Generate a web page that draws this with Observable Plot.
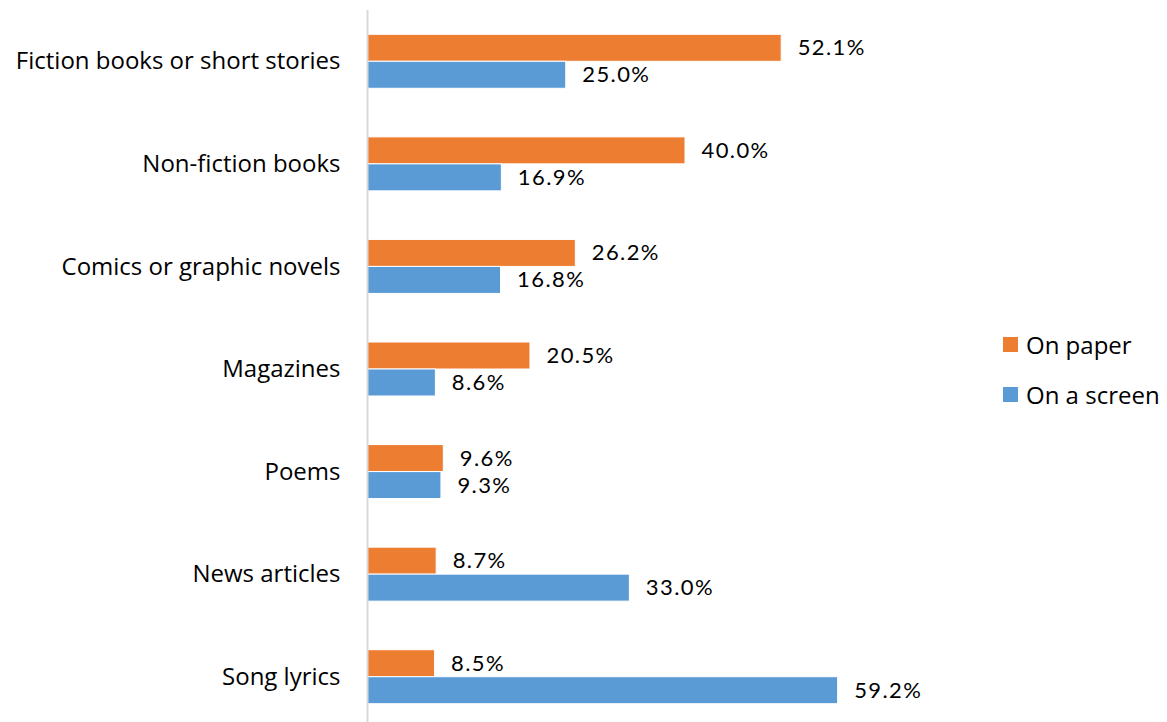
<!DOCTYPE html>
<html>
<head>
<meta charset="utf-8">
<script src="https://cdn.jsdelivr.net/npm/d3@7"></script>
<script src="https://cdn.jsdelivr.net/npm/@observablehq/plot@0.6"></script>
<style>
  html, body { margin: 0; padding: 0; background: #fff; overflow: hidden; }
  #wrap { position: relative; width: 1167px; height: 722px; }
  #legend { position: absolute; left: 1003px; top: 326px; font-family: "Open Sans", sans-serif; font-size: 24px; color: #000; }
  .item { display: flex; align-items: center; height: 36px; margin-bottom: 14px; }
  .sw { width: 15px; height: 15px; margin-right: 8px; }
  g[aria-label="text"] text { letter-spacing: 1.4px; }
</style>
</head>
<body>
<div id="wrap"><div id="legend"></div></div>
<script>
const categories = ["Fiction books or short stories", "Non-fiction books", "Comics or graphic novels", "Magazines", "Poems", "News articles", "Song lyrics"];
const series = ["On paper", "On a screen"];
const paperValues = [52.1, 40.0, 26.2, 20.5, 9.6, 8.7, 8.5];
const screenValues = [25.0, 16.9, 16.8, 8.6, 9.3, 33.0, 59.2];
const colors = ["#ED7D31", "#5B9BD5"];

const data = categories.flatMap((c, i) => [
  {category: c, series: series[0], value: paperValues[i]},
  {category: c, series: series[1], value: screenValues[i]}
]);

const chart = Plot.plot({
  width: 1167,
  height: 728,
  marginTop: 10,
  marginBottom: 0,
  marginLeft: 367,
  marginRight: 5,
  style: {fontFamily: "Open Sans, sans-serif", fontSize: "24px", color: "#000", background: "transparent"},
  x: {domain: [0, 100], axis: null},
  y: {domain: series, paddingInner: 0, paddingOuter: 0.9, round: false, axis: null},
  fy: {domain: categories, padding: 0, round: false, label: null},
  color: {domain: series, range: colors},
  marks: [
    Plot.barX(data, {fy: "category", y: "series", x: "value", fill: "series", stroke: "white", strokeWidth: 1}),
    Plot.text(data, {fy: "category", y: "series", x: "value", text: d => d.value.toFixed(1) + "%", textAnchor: "start", dx: 16, fontSize: 22, fontFamily: "Lato, sans-serif", fill: "#000"}),
    Plot.ruleX([0], {stroke: "#d9d9d9", strokeWidth: 2}),
    Plot.axisFy({anchor: "left", tickSize: 0, tickPadding: 27, fontSize: 24, label: null})
  ]
});
document.getElementById("wrap").prepend(chart);

const legend = document.getElementById("legend");
series.forEach((s, i) => {
  const item = document.createElement("div");
  item.className = "item";
  const sw = document.createElement("span");
  sw.className = "sw";
  sw.style.background = colors[i];
  const label = document.createElement("span");
  label.textContent = s;
  item.appendChild(sw);
  item.appendChild(label);
  legend.appendChild(item);
});
</script>
</body>
</html>
